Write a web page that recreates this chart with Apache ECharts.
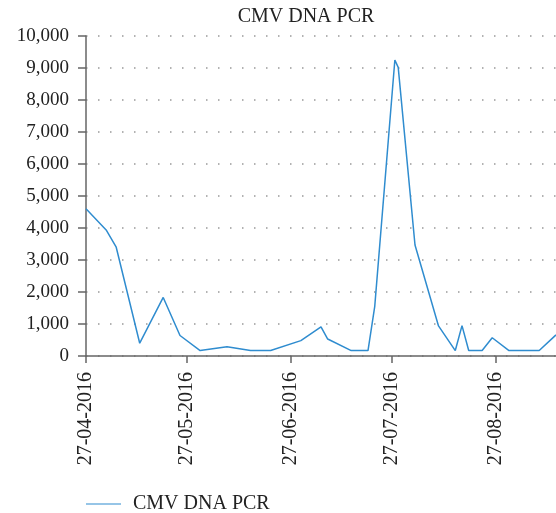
<!DOCTYPE html>
<html>
<head>
<meta charset="utf-8">
<script src="https://cdn.jsdelivr.net/npm/echarts@6/dist/echarts.min.js"></script>
<style>
  html, body { margin: 0; padding: 0; background: #fff; }
  #chart { width: 556px; height: 513px; }
</style>
</head>
<body>
<div id="chart"></div>
<script>
// sample dates and CMV DNA PCR values
var dates = [
  '2016-04-27', '2016-05-03', '2016-05-06', '2016-05-13', '2016-05-20', '2016-05-25',
  '2016-05-31', '2016-06-08', '2016-06-15', '2016-06-21', '2016-06-30', '2016-07-06',
  '2016-07-08', '2016-07-15', '2016-07-20', '2016-07-22', '2016-07-28', '2016-07-29',
  '2016-08-03', '2016-08-10', '2016-08-15', '2016-08-17', '2016-08-19', '2016-08-23',
  '2016-08-26', '2016-08-31', '2016-09-09', '2016-09-14'
];
var cmvValues = [
  4600, 3940, 3400, 400, 1830, 640,
  170, 290, 170, 170, 480, 910,
  530, 170, 170, 1540, 9250, 9020,
  3470, 940, 170, 950, 170, 170,
  570, 170, 170, 660
];
// x tick labels sit on the 27th of each month
var tickDates = ['2016-04-27', '2016-05-27', '2016-06-27', '2016-07-27', '2016-08-27'];
var startDate = '2016-04-27';
var endDate = '2016-09-14';

var DAY = 86400000;
function toUTC(s) {
  var p = s.split('-');
  return Date.UTC(+p[0], +p[1] - 1, +p[2]);
}
// x axis runs in days since the first sample
function toDay(s) { return Math.round((toUTC(s) - toUTC(startDate)) / DAY); }
function pad(n) { return n < 10 ? '0' + n : '' + n; }

var tickDays = tickDates.map(toDay);
var seriesData = dates.map(function (d, i) { return [toDay(d), cmvValues[i]]; });

var font = 'Liberation Serif';
var textColor = '#222';
var axisColor = '#666';

var chart = echarts.init(document.getElementById('chart'), null, { renderer: 'canvas' });

var option = {
  backgroundColor: '#fff',
  animation: false,
  title: {
    text: 'CMV DNA PCR',
    left: 301,
    textAlign: 'center',
    top: 2,
    textStyle: { fontFamily: font, fontSize: 20, fontWeight: 'normal', color: textColor }
  },
  legend: {
    data: ['CMV DNA PCR'],
    left: 86,
    top: 494,
    padding: 0,
    itemWidth: 35,
    itemHeight: 10,
    icon: 'path://M0,4.5L35,4.5L35,5.5L0,5.5Z',
    textStyle: { fontFamily: font, fontSize: 20, color: textColor, padding: [0, 0, 0, 7] }
  },
  grid: { left: 86, right: 0, top: 36, bottom: 157 },
  xAxis: {
    type: 'value',
    min: 0,
    max: toDay(endDate),
    axisLine: { lineStyle: { color: axisColor, width: 1.5 } },
    axisTick: { customValues: tickDays, length: 7, lineStyle: { color: axisColor, width: 1.5 } },
    axisLabel: {
      customValues: tickDays,
      rotate: 90,
      margin: 16,
      fontFamily: font,
      fontSize: 20,
      color: textColor,
      formatter: function (v) {
        var d = new Date(toUTC(startDate) + v * DAY);
        return pad(d.getUTCDate()) + '-' + pad(d.getUTCMonth() + 1) + '-' + d.getUTCFullYear();
      }
    },
    splitLine: { show: false }
  },
  yAxis: {
    type: 'value',
    min: 0,
    max: 10000,
    interval: 1000,
    axisLine: { show: true, lineStyle: { color: axisColor, width: 1.5 } },
    axisTick: { show: true, length: 8, lineStyle: { color: axisColor, width: 1.5 } },
    axisLabel: {
      margin: 17,
      fontFamily: font,
      fontSize: 19,
      color: textColor,
      formatter: function (v) { return v.toLocaleString('en-US'); }
    },
    splitLine: { lineStyle: { color: '#999', width: 1.5, type: [1.5, 10.5] } }
  },
  series: [{
    name: 'CMV DNA PCR',
    type: 'line',
    data: seriesData,
    showSymbol: false,
    symbol: 'none',
    lineStyle: { color: '#2f8ccf', width: 1.5 },
    itemStyle: { color: '#2f8ccf' }
  }]
};

chart.setOption(option);
</script>
</body>
</html>
